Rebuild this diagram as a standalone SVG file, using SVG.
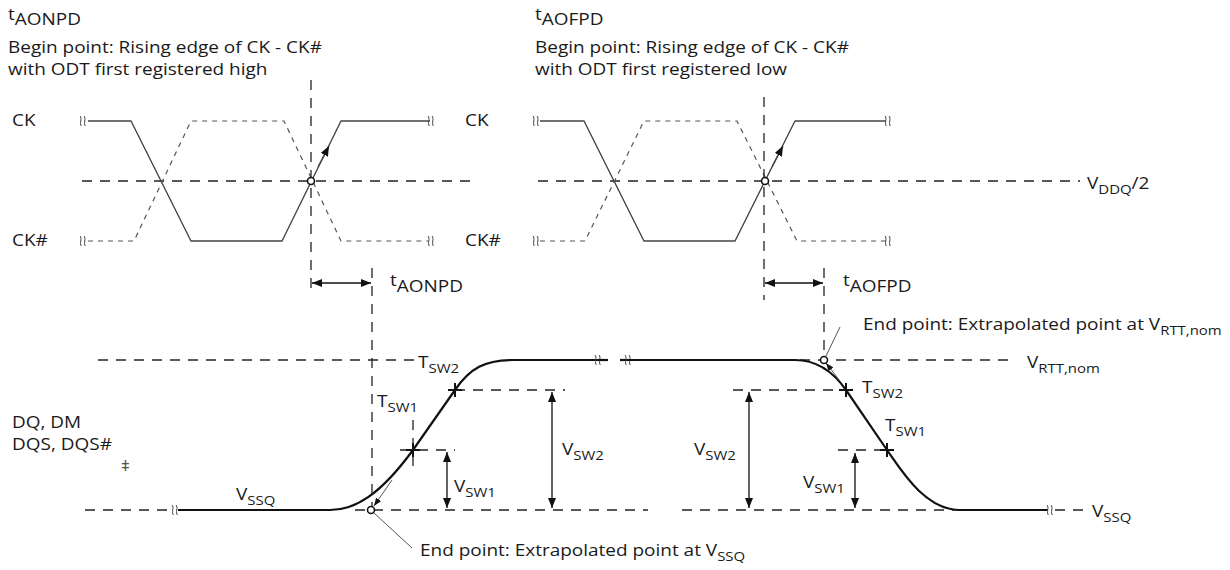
<svg xmlns="http://www.w3.org/2000/svg" width="1230" height="570" viewBox="0 0 1230 570">
<defs>
<style>
text { font-family: "Open Sans", "Liberation Sans", sans-serif; font-size: 16.5px; fill: #1a1a1a; }
.sub { font-size: 13px; }
.ref { stroke: #222; stroke-width: 1.3; stroke-dasharray: 10 8; fill: none; }
.ck { stroke: #444; stroke-width: 1.3; fill: none; }
.ckn { stroke: #555; stroke-width: 1.2; stroke-dasharray: 5 5; fill: none; }
.sig { stroke: #111; stroke-width: 2.2; fill: none; }
.dim { stroke: #111; stroke-width: 1.3; fill: none; }
.lead { stroke: #555; stroke-width: 1; fill: none; }
.pt { fill: #fff; stroke: #111; stroke-width: 1.6; }
.brk { stroke: #444; stroke-width: 1; fill: none; }
.cross { stroke: #111; stroke-width: 2; fill: none; }
</style>
<marker id="ah" viewBox="0 0 10 8" refX="10" refY="4" markerWidth="10" markerHeight="8" markerUnits="userSpaceOnUse" orient="auto-start-reverse">
<path d="M0,0 L10,4 L0,8 z" fill="#111"/>
</marker>
<marker id="ahs" viewBox="0 0 8 6" refX="8" refY="3" markerWidth="8" markerHeight="6" markerUnits="userSpaceOnUse" orient="auto">
<path d="M0,0 L8,3 L0,6 z" fill="#111"/>
</marker>
<g id="brk"><path class="brk" d="M-4,-5 c2.5,2 -1,8 1.5,10 M0,-5 c2.5,2 -1,8 1.5,10"/></g>
</defs>

<g id="titles">
<text transform="translate(8 20) scale(1.15 1)">t<tspan dy="5">AONPD</tspan></text>
<text transform="translate(8 53) scale(1.15 1)">Begin point: Rising edge of CK - CK#</text>
<text transform="translate(8 75) scale(1.15 1)">with ODT first registered high</text>
<text transform="translate(535 20) scale(1.15 1)">t<tspan dy="5">AOFPD</tspan></text>
<text transform="translate(535 53) scale(1.15 1)">Begin point: Rising edge of CK - CK#</text>
<text transform="translate(535 75) scale(1.15 1)">with ODT first registered low</text>
</g>

<g id="clock-labels">
<text transform="translate(12 126) scale(1.15 1)">CK</text>
<text transform="translate(12 246) scale(1.15 1)">CK#</text>
<text transform="translate(465 126) scale(1.15 1)">CK</text>
<text transform="translate(465 246) scale(1.15 1)">CK#</text>
<text transform="translate(1087 189) scale(1.15 1)">V<tspan class="sub" dy="5">DDQ</tspan><tspan dy="-5">/2</tspan></text>
</g>

<g id="vddq-ref">
<path class="ref" d="M82,181 H475 M538,181 H1080"/>
</g>

<g id="clock-left">
<path class="ck" d="M88,121 L131,121 L191,241 L282,241 L341,121 L430,121"/>
<path class="ckn" d="M88,241 L134,241 L191,121 L284,121 L341,241 L428,241"/>
<use href="#brk" x="84" y="121"/>
<use href="#brk" x="432" y="121"/>
<use href="#brk" x="84" y="241"/>
<use href="#brk" x="432" y="241"/>
<path class="ref" d="M311,80 V292"/>
<circle class="pt" cx="311" cy="181" r="3.5"/>
</g>

<g id="clock-right">
<path class="ck" d="M540,121 L584,121 L644,241 L735,241 L795,121 L886,121"/>
<path class="ckn" d="M540,241 L585,241 L644,121 L737,121 L797,241 L886,241"/>
<use href="#brk" x="537" y="121"/>
<use href="#brk" x="889" y="121"/>
<use href="#brk" x="537" y="241"/>
<use href="#brk" x="889" y="241"/>
<path class="ref" d="M764,97 V300"/>
<circle class="pt" cx="765" cy="181" r="3.5"/>
</g>

<g id="dq-waveform">
<path class="ref" d="M98,360 H415 M800,360 H1013"/>
<path class="ref" d="M85,510 H170 M355,510 H648 M682,510 H960 M1055,510 H1085"/>
<path class="ref" d="M455,390 H565 M733,390 H846 M400,450 H455 M838,450 H887 M413,420 V473"/>
<use href="#brk" x="176" y="510"/>
<path class="sig" d="M178,510 H330 C355,510 380,495 413,450 L455,390 C470,368 485,360 513,360 H598"/>
<use href="#brk" x="599" y="360"/>
<path class="sig" d="M598,360 H608"/>
<path class="sig" d="M620,360 H628"/>
<use href="#brk" x="629" y="360"/>
<path class="sig" d="M628,360 H795 C815,360 832,370 846,390 L887,450 C901,470 925,510 960,510 H1048"/>
<use href="#brk" x="1051" y="510"/>
<path class="cross" d="M406,450 H420 M413,443 V457 M448,390 H462 M455,383 V397 M839,390 H853 M846,383 V397 M880,450 H894 M887,443 V457"/>
<circle class="pt" cx="371" cy="510" r="3.5"/>
<circle class="pt" cx="824" cy="360" r="3.5"/>
<path class="ref" d="M372,268 V506 M824,268 V356"/>
</g>

<g id="dq-labels">
<text transform="translate(12 428) scale(1.15 1)">DQ, DM</text>
<text transform="translate(12 450) scale(1.15 1)">DQS, DQS#</text>
<text transform="translate(121 471)" style="font-size:15px;fill:#555">ǂ</text>
<text transform="translate(236 500) scale(1.15 1)">V<tspan class="sub" dy="5">SSQ</tspan></text>
<text transform="translate(418 368) scale(1.15 1)">T<tspan class="sub" dy="5">SW2</tspan></text>
<text transform="translate(377 407) scale(1.15 1)">T<tspan class="sub" dy="5">SW1</tspan></text>
<text transform="translate(454 492) scale(1.15 1)">V<tspan class="sub" dy="5">SW1</tspan></text>
<text transform="translate(562 455) scale(1.15 1)">V<tspan class="sub" dy="5">SW2</tspan></text>
<text transform="translate(694 455) scale(1.15 1)">V<tspan class="sub" dy="5">SW2</tspan></text>
<text transform="translate(803 488) scale(1.15 1)">V<tspan class="sub" dy="5">SW1</tspan></text>
<text transform="translate(862 393) scale(1.15 1)">T<tspan class="sub" dy="5">SW2</tspan></text>
<text transform="translate(885 431) scale(1.15 1)">T<tspan class="sub" dy="5">SW1</tspan></text>
<text transform="translate(1027 368) scale(1.15 1)">V<tspan class="sub" dy="5">RTT,nom</tspan></text>
<text transform="translate(1092 517) scale(1.15 1)">V<tspan class="sub" dy="5">SSQ</tspan></text>
<text transform="translate(390 286) scale(1.15 1)">t<tspan dy="6">AONPD</tspan></text>
<text transform="translate(843 286) scale(1.15 1)">t<tspan dy="6">AOFPD</tspan></text>
<text transform="translate(420 556) scale(1.15 1)">End point: Extrapolated point at V<tspan class="sub" dy="5">SSQ</tspan></text>
<text transform="translate(863 330) scale(1.15 1)">End point: Extrapolated point at V<tspan class="sub" dy="5">RTT,nom</tspan></text>
</g>

<g id="connectors">
<path class="ck" d="M318,167 L329,146" marker-end="url(#ah)"/>
<path class="ck" d="M772,167 L783,146" marker-end="url(#ah)"/>
<path class="dim" d="M312,283 H371" marker-start="url(#ah)" marker-end="url(#ah)"/>
<path class="dim" d="M765,283 H823" marker-start="url(#ah)" marker-end="url(#ah)"/>
<path class="dim" d="M447,452 V508" marker-start="url(#ah)" marker-end="url(#ah)"/>
<path class="dim" d="M552,392 V508" marker-start="url(#ah)" marker-end="url(#ah)"/>
<path class="dim" d="M749,392 V508" marker-start="url(#ah)" marker-end="url(#ah)"/>
<path class="dim" d="M855,453 V508" marker-start="url(#ah)" marker-end="url(#ah)"/>
<path class="lead" d="M392,480 L374,506" marker-end="url(#ahs)"/>
<path class="lead" d="M840,381 L826,363" marker-end="url(#ahs)"/>
<path class="lead" d="M374,513 L412,548"/>
<path class="lead" d="M826,356 L840,327"/>
</g>
</svg>
